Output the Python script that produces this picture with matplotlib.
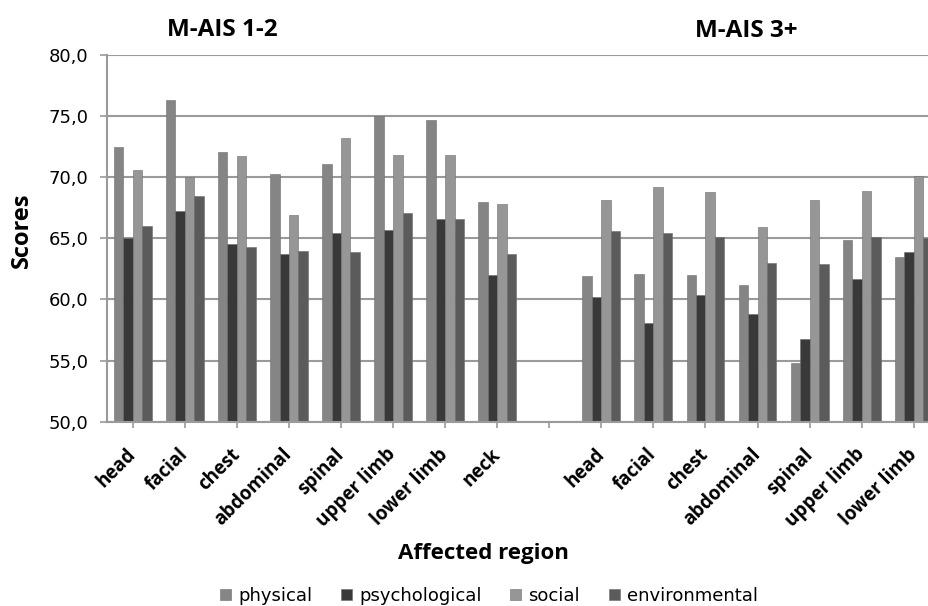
import matplotlib.pyplot as plt
import matplotlib.transforms as mtransforms
import numpy as np

# categories (an empty slot separates the two M-AIS groups)
regions_low = ['head', 'facial', 'chest', 'abdominal', 'spinal', 'upper limb', 'lower limb', 'neck']
regions_high = ['head', 'facial', 'chest', 'abdominal', 'spinal', 'upper limb', 'lower limb']

# M-AIS 1-2 scores
physical_low = [72.5, 76.3, 72.1, 70.3, 71.1, 75.0, 74.7, 68.0]
psychological_low = [65.0, 67.2, 64.5, 63.7, 65.4, 65.7, 66.6, 62.0]
social_low = [70.6, 70.0, 71.7, 66.9, 73.2, 71.8, 71.8, 67.8]
environmental_low = [66.0, 68.5, 64.3, 64.0, 63.9, 67.1, 66.6, 63.7]

# M-AIS 3+ scores
physical_high = [61.9, 62.1, 62.0, 61.2, 54.8, 64.9, 63.5]
psychological_high = [60.2, 58.1, 60.4, 58.8, 56.8, 61.7, 63.9]
social_high = [68.1, 69.2, 68.8, 65.9, 68.1, 68.9, 70.1]
environmental_high = [65.6, 65.4, 65.1, 63.0, 62.9, 65.1, 65.0]

series_names = ['physical', 'psychological', 'social', 'environmental']
colors = ['#858585', '#393939', '#969696', '#5b5b5b']

labels = regions_low + [''] + regions_high
nan = [np.nan]
series = [
    physical_low + nan + physical_high,
    psychological_low + nan + psychological_high,
    social_low + nan + social_high,
    environmental_low + nan + environmental_high,
]

plt.rcParams['font.family'] = ['Open Sans', 'DejaVu Sans']

fig = plt.figure(figsize=(9.29, 6.06), dpi=100)
ax = fig.add_axes([0.1149, 0.3041, 0.8967, 0.6051])

x = np.arange(len(labels))
w = 1 / 5.5
base = 50.0
for i, (vals, name, c) in enumerate(zip(series, series_names, colors)):
    v = np.array(vals, dtype=float)
    ax.bar(x + (i - 1.5) * w, v - base, w, bottom=base, color=c,
           edgecolor='#6e6e6e', linewidth=0.4, label=name)

ax.set_ylim(50, 80)
ax.set_xlim(-0.5, len(labels) - 0.5)
yt = np.arange(50, 81, 5)
ax.set_yticks(yt)
ax.set_yticklabels([f'{t:.1f}'.replace('.', ',') for t in yt], fontsize=13,
                   family='DejaVu Sans')
ax.set_xticks(x)
ax.set_xticklabels(labels, rotation=45, ha='right', va='center',
                   rotation_mode='anchor', fontsize=13.5, fontweight='bold')
# nudge rotated labels a little to the right
shift = mtransforms.ScaledTranslation(5 / 100, 2 / 100, fig.dpi_scale_trans)
for lab in ax.get_xticklabels():
    lab.set_transform(lab.get_transform() + shift)
ax.tick_params(axis='y', length=5, width=1.2, color='#9a9a9a', pad=8)
ax.tick_params(axis='x', length=4.5, width=1.2, color='#9a9a9a', pad=17)

ax.grid(axis='y', color='#9a9a9a', linewidth=1.5)
ax.set_axisbelow(True)
for s in ['top', 'right']:
    ax.spines[s].set_visible(False)
ax.spines['left'].set_color('#9a9a9a')
ax.spines['left'].set_linewidth(1.5)
ax.spines['bottom'].set_color('#9a9a9a')
ax.spines['bottom'].set_linewidth(1.5)

fig.text(22 / 929, 1 - 230 / 606, 'Scores', fontsize=17, fontweight='bold',
         rotation=90, ha='center', va='center')
fig.text(483 / 929, 1 - 553 / 606, 'Affected region', fontsize=16,
         fontweight='bold', ha='center', va='center')
fig.text(222 / 929, 1 - 30 / 606, 'M-AIS 1-2', fontsize=17.5,
         fontweight='bold', ha='center', va='center')
fig.text(746 / 929, 1 - 31 / 606, 'M-AIS 3+', fontsize=17.5,
         fontweight='bold', ha='center', va='center')

fig.legend(loc='center', bbox_to_anchor=(489 / 929, 1 - 596 / 606), ncol=4,
           frameon=False, prop={'family': 'DejaVu Sans', 'size': 13},
           handlelength=0.6, handleheight=0.6, handletextpad=0.4,
           columnspacing=1.6)

plt.savefig('out.png', dpi=100)
